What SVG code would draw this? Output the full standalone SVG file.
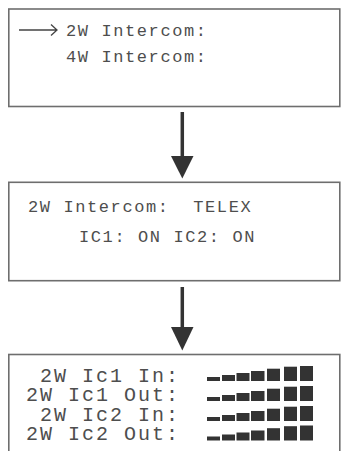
<svg xmlns="http://www.w3.org/2000/svg" width="341" height="451" viewBox="0 0 341 451">
<style>
.box{fill:#fff;stroke:#6e6e6e;stroke-width:1.6}
.t{font-family:"Liberation Mono","DejaVu Sans Mono",monospace;font-size:17px;letter-spacing:1.6px;fill:#4e4e4e;white-space:pre}
.t3{font-family:"Liberation Mono","DejaVu Sans Mono",monospace;font-size:20px;letter-spacing:2px;fill:#4e4e4e}
.shaft{stroke:#333;stroke-width:3.5;fill:none}
.head{fill:#333}
.bar{fill:#333}
</style>
<rect width="341" height="451" fill="#fff"/>
<g id="screen1">
<rect class="box" x="8.8" y="9" width="331" height="97.5"/>
<path d="M19 30 H57 M51 24.5 L57 30 L51 35.5" stroke="#444" stroke-width="1.3" fill="none"/>
<text class="t" x="66" y="36">2W Intercom:</text>
<text class="t" x="66" y="62">4W Intercom:</text>
</g>
<g id="screen2">
<rect class="box" x="8.8" y="182.3" width="331" height="98.4"/>
<text class="t" x="28" y="212" xml:space="preserve">2W Intercom:  TELEX</text>
<text class="t" x="79" y="242">IC1: ON IC2: ON</text>
</g>
<g id="screen3">
<rect class="box" x="8.8" y="354.5" width="331" height="110"/>
<text class="t3" x="40" y="381.5">2W Ic1 In:</text>
<text class="t3" x="26" y="401">2W Ic1 Out:</text>
<text class="t3" x="40" y="420.5">2W Ic2 In:</text>
<text class="t3" x="26" y="439.5">2W Ic2 Out:</text>
<defs>
<g id="meter">
<rect class="bar" x="207" y="-4" width="13" height="4"/>
<rect class="bar" x="222" y="-6" width="13" height="6"/>
<rect class="bar" x="236.5" y="-8" width="13" height="8"/>
<rect class="bar" x="251" y="-10" width="13.5" height="10"/>
<rect class="bar" x="267" y="-12.3" width="13" height="12.3"/>
<rect class="bar" x="284" y="-14.3" width="13" height="14.3"/>
<rect class="bar" x="300" y="-15" width="13" height="15"/>
</g>
</defs>
<use href="#meter" y="381"/>
<use href="#meter" y="401"/>
<use href="#meter" y="421"/>
<use href="#meter" y="440.5"/>
</g>
<g id="connectors">
<line class="shaft" x1="182.3" y1="112" x2="182.3" y2="160"/>
<polygon class="head" points="171,156 193.5,156 182.3,178.5"/>
<line class="shaft" x1="182.3" y1="287" x2="182.3" y2="330"/>
<polygon class="head" points="171,327 193.5,327 182.3,350.5"/>
</g>
</svg>
